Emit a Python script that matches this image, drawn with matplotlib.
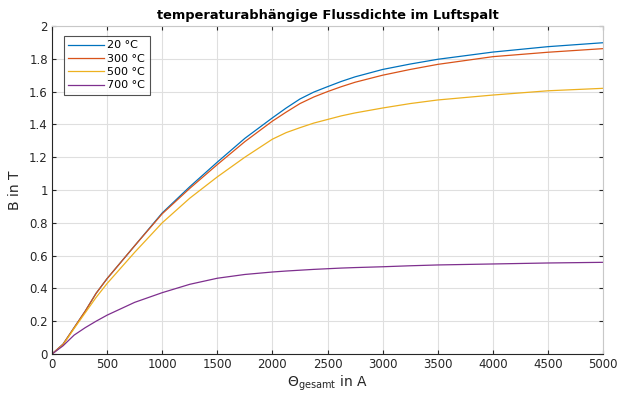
import matplotlib
matplotlib.use("Agg")
import matplotlib.pyplot as plt
from matplotlib.ticker import FuncFormatter

# Magnetomotive force (A) and flux density (T) per temperature
theta = [0, 100, 200, 300, 400, 500, 750, 1000, 1250, 1500, 1750, 2000,
         2125, 2250, 2375, 2500, 2625, 2750, 3000, 3250, 3500, 4000, 4500, 5000]
b_20 = [0, 0.06, 0.16, 0.26, 0.37, 0.46, 0.66, 0.86, 1.02, 1.17, 1.315, 1.44,
        1.50, 1.555, 1.597, 1.63, 1.662, 1.69, 1.735, 1.768, 1.797, 1.841, 1.874, 1.898]
b_300 = [0, 0.06, 0.16, 0.26, 0.37, 0.46, 0.66, 0.855, 1.01, 1.155, 1.295, 1.42,
         1.475, 1.527, 1.567, 1.60, 1.630, 1.657, 1.70, 1.735, 1.766, 1.813, 1.84, 1.862]
b_500 = [0, 0.055, 0.155, 0.25, 0.345, 0.43, 0.62, 0.80, 0.95, 1.08, 1.20, 1.31,
         1.35, 1.38, 1.408, 1.43, 1.452, 1.47, 1.50, 1.527, 1.549, 1.579, 1.605, 1.62]
b_700 = [0, 0.05, 0.115, 0.16, 0.20, 0.237, 0.315, 0.374, 0.425, 0.462, 0.485, 0.500,
         0.506, 0.511, 0.516, 0.52, 0.524, 0.527, 0.532, 0.538, 0.543, 0.549, 0.555, 0.559]

labels = ["20 °C", "300 °C", "500 °C", "700 °C"]
colors = ["#0072bd", "#d95319", "#edb120", "#7e2f8e"]

plt.rcParams["font.family"] = "DejaVu Sans"
fig = plt.figure(figsize=(6.2, 3.97), dpi=100)
ax = fig.add_axes([0.0839, 0.1083, 0.8887, 0.8262])

for y, lab, c in zip([b_20, b_300, b_500, b_700], labels, colors):
    ax.plot(theta, y, color=c, lw=0.9, label=lab)

ax.set_xlim(0, 5000)
ax.set_ylim(0, 2)
ax.set_xticks(range(0, 5001, 500))
ax.set_yticks([i * 0.2 for i in range(11)])
ax.yaxis.set_major_formatter(FuncFormatter(lambda v, p: f"{v:g}"))

ax.grid(True, color="#dfdfdf", lw=0.8)
ax.set_axisbelow(True)
axis_col = "#262626"
for s in ax.spines.values():
    s.set_color(axis_col)
    s.set_linewidth(0.8)
ax.spines["top"].set_color("#c8c8c8")
ax.spines["right"].set_color("#c8c8c8")
ax.tick_params(direction="in", length=3, width=0.8, colors=axis_col,
               labelsize=8.5, top=True, right=True, pad=3)

ax.set_title("temperaturabhängige Flussdichte im Luftspalt",
             fontsize=9.4, fontweight="bold", pad=5)
ax.set_xlabel(r"$\Theta_{\mathrm{gesamt}}$ in A", fontsize=10, color=axis_col, labelpad=2)
ax.set_ylabel("B in T", fontsize=10, color=axis_col, labelpad=5)

leg = ax.legend(loc="upper left", fontsize=8, frameon=True, fancybox=False,
                edgecolor=axis_col, handlelength=3.2, borderpad=0.4,
                labelspacing=0.3, handletextpad=0.3, borderaxespad=0,
                bbox_to_anchor=(12 / 551, 1 - 10 / 328))
leg.get_frame().set_linewidth(0.8)

fig.savefig("out.png", dpi=100)
